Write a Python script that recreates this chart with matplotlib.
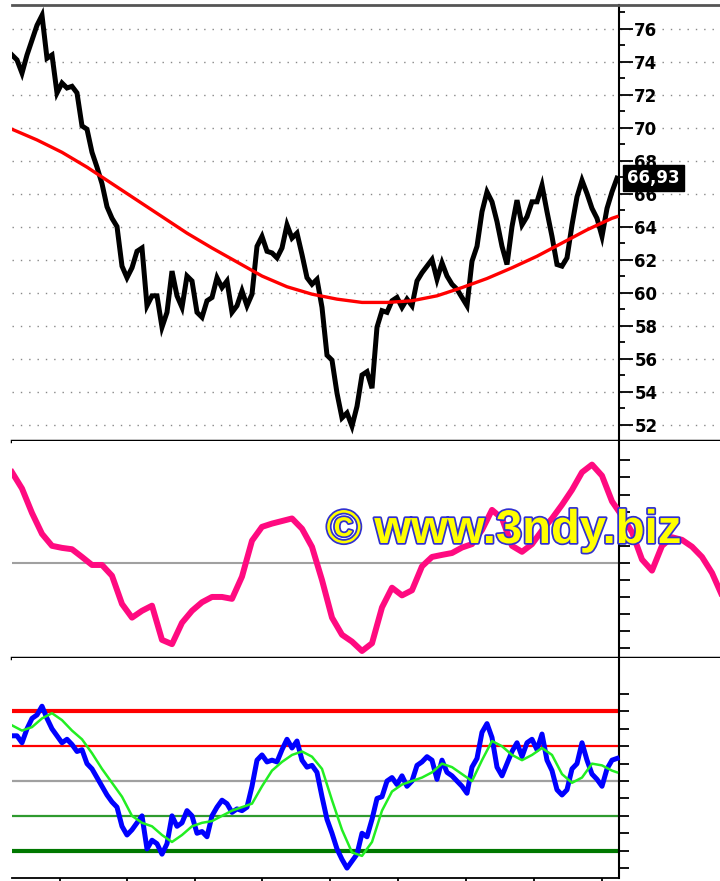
import numpy as np
import matplotlib
matplotlib.use("Agg")
import matplotlib.pyplot as plt
import matplotlib.patheffects as pe

# closing prices, one value per bar
price = [74.4, 74.1, 73.3, 74.4, 75.3, 76.2, 76.8, 74.2, 74.4, 72.1,
         72.7, 72.4, 72.5, 72.1, 70.1, 69.9, 68.5, 67.6, 66.6, 65.2,
         64.5, 64.0, 61.6, 60.9, 61.5, 62.5, 62.7, 59.2, 59.8, 59.8,
         57.9, 58.8, 61.3, 59.8, 59.1, 61.0, 60.7, 58.8, 58.5, 59.5,
         59.7, 60.9, 60.3, 60.7, 58.8, 59.2, 60.1, 59.2, 59.9, 62.8,
         63.4, 62.5, 62.4, 62.1, 62.7, 64.1, 63.3, 63.6, 62.3, 60.9,
         60.5, 60.8, 59.1, 56.2, 55.9, 53.9, 52.4, 52.7, 51.9, 53.1,
         55.0, 55.2, 54.2, 57.9, 58.9, 58.8, 59.5, 59.7, 59.1, 59.6,
         59.2, 60.7, 61.2, 61.6, 62.0, 60.8, 61.8, 61.0, 60.5, 60.2,
         59.7, 59.2, 61.9, 62.8, 64.9, 66.1, 65.5, 64.3, 62.8, 61.7,
         64.0, 65.6, 64.1, 64.6, 65.5, 65.5, 66.5, 64.9, 63.4, 61.7,
         61.6, 62.1, 64.1, 65.8, 66.8, 66.0, 65.1, 64.5, 63.4, 65.1,
         66.1, 66.93]
last_label = "66,93"

# long moving average, every 5th bar plus the last one
ma_line = [69.9, 69.25, 68.5, 67.6, 66.6, 65.6, 64.6, 63.6, 62.7, 61.85,
           61.0, 60.35, 59.9, 59.6, 59.4, 59.4, 59.5, 59.8, 60.3, 60.85,
           61.5, 62.2, 63.0, 63.8, 64.5, 64.6]

# displaced oscillator, every 2nd bar (runs past the last bar)
osc = [5.3, 4.35, 2.92, 1.7, 1.0, 0.88, 0.8, 0.35, -0.12, -0.12,
       -0.75, -2.4, -3.2, -2.8, -2.5, -4.5, -4.75, -3.5, -2.8, -2.3,
       -1.99, -1.99, -2.1, -0.8, 1.3, 2.11, 2.3, 2.45, 2.6, 2.0,
       0.94, -1.0, -3.2, -4.2, -4.6, -5.15, -4.7, -2.6, -1.45, -1.9,
       -1.6, -0.2, 0.35, 0.47, 0.58, 0.9, 1.1, 1.93, 3.1, 2.6,
       1.0, 0.65, 1.1, 1.9, 2.6, 3.4, 4.27, 5.3, 5.75, 5.1,
       3.6, 2.75, 1.8, 0.2, -0.45, 1.0, 1.5, 1.35, 0.95, 0.35,
       -0.58, -1.9]

# stochastic %K, one value per bar
stoch_k = [76, 76, 72, 80, 86, 88, 93, 86, 80, 76,
           72, 74, 71, 67, 68, 60, 57, 52, 47, 42,
           38, 35, 24, 19, 22, 26, 30, 11, 16, 14,
           8, 14, 30, 24, 26, 33, 30, 20, 21, 18,
           30, 35, 39, 37, 32, 34, 33, 35, 47, 62,
           65, 61, 62, 61, 68, 74, 69, 73, 62, 58,
           59, 55, 41, 28, 20, 11, 5, 0, 4, 8,
           20, 18, 28, 40, 41, 50, 52, 48, 53, 47,
           50, 59, 61, 64, 62, 51, 62, 55, 53, 50,
           47, 43, 58, 63, 78, 83, 75, 58, 53, 60,
           67, 72, 64, 72, 74, 68, 77, 62, 56, 45,
           42, 45, 57, 60, 72, 62, 54, 51, 47, 57,
           62, 63]

# stochastic %D, every 2nd bar plus the last one
stoch_d = [82, 79, 81, 86, 89, 85, 79, 74, 66, 57,
           49, 41, 30, 26, 24, 19, 15, 19, 24, 26,
           27, 30, 33, 35, 37, 47, 56, 61, 65, 67,
           64, 57, 39, 22, 9, 7, 15, 33, 44, 48,
           50, 52, 55, 60, 58, 54, 50, 62, 73, 70,
           65, 62, 65, 69, 65, 54, 49, 52, 60, 59,
           56, 55]

stoch_levels = [90, 70, 50, 30, 10]
date_ticks = [9.6, 23, 36.6, 50, 63.6, 77.2, 90.8, 104.4, 118]

W, H = 720, 881
EDGE = 121.4   # bar position of the price scale line
XMAX = 141.6

fig = plt.figure(figsize=(W / 100, H / 100), dpi=100)


def panel(top, bottom):
    return fig.add_axes([12 / W, 1 - bottom / H, (W - 12) / W, (bottom - top) / H])


ax1 = panel(5, 441)
ax2 = panel(441, 658)
ax3 = panel(658, 878)

for ax in (ax1, ax2, ax3):
    ax.set_xlim(0, XMAX)
    ax.spines["left"].set_visible(False)
    ax.spines["right"].set_position(("data", EDGE))
    ax.spines["right"].set_linewidth(1.5)
    ax.yaxis.tick_right()
    ax.tick_params(axis="y", which="both", direction="out", width=1.3, color="black")
    ax.tick_params(axis="x", bottom=False, labelbottom=False)

# --- price panel
bars = np.arange(len(price))
ma_x = np.append(np.arange(0, 121, 5), 121)
ax1.plot(bars, price, color="black", lw=3.6, solid_joinstyle="miter", zorder=3)
ax1.plot(ma_x, ma_line, color="#ff0000", lw=2.4, zorder=4)
ax1.set_ylim(51.40, 77.43)
ax1.set_yticks(range(52, 77, 2))
ax1.set_yticks(range(51, 78, 2), minor=True)
ax1.tick_params(axis="y", which="major", length=10, pad=1,
                labelsize=12)
ax1.tick_params(axis="y", which="minor", length=4.5)
for lab in ax1.get_yticklabels():
    lab.set_fontweight("bold")
ax1.grid(axis="y", which="major", color="#888888", lw=1, linestyle=(0, (1, 5)))
ax1.spines["top"].set_color("#555555")
ax1.spines["top"].set_linewidth(2)
ax1.spines["bottom"].set_linewidth(2.5)
# last-price tag sits over the 66/68 labels, as on the original
ax1.text(123.0, price[-1], last_label, color="white", fontsize=12, fontweight="bold",
         va="center", ha="left", zorder=6,
         bbox=dict(boxstyle="square,pad=0.25", fc="black", ec="black"))

# --- oscillator panel
osc_x = np.arange(0, 143, 2)
ax2.hlines(0, 0, EDGE, color="#a0a0a0", lw=1.5, zorder=2)
ax2.plot(osc_x, osc, color="#ff0a80", lw=4.3, zorder=3)
ax2.set_ylim(-5.56, 7.13)
ax2.set_yticks(range(-5, 7))
ax2.tick_params(axis="y", length=8, labelright=False)
ax2.spines["top"].set_visible(False)
ax2.spines["bottom"].set_linewidth(2.5)

# --- stochastic panel
d_x = np.append(np.arange(0, 121, 2), 121)
lvl_colors = ["#ff0000", "#ff0000", "#a0a0a0", "#2e9a2e", "#007800"]
lvl_widths = [3.0, 1.6, 1.6, 1.6, 3.0]
for lvl, c, w in zip(stoch_levels, lvl_colors, lvl_widths):
    ax3.hlines(lvl, 0, EDGE, color=c, lw=w, zorder=2)
ax3.plot(bars, stoch_k, color="#0000ff", lw=3.6, zorder=3)
ax3.plot(d_x, stoch_d, color="#22ee22", lw=1.8, zorder=4)
ax3.set_ylim(-5.7, 120.7)
ax3.set_yticks(range(0, 101, 10))
ax3.tick_params(axis="y", length=7, labelright=False)
ax3.spines["top"].set_visible(False)
ax3.spines["bottom"].set_bounds(0, EDGE)
ax3.spines["bottom"].set_linewidth(1.3)
ax3.set_xticks(date_ticks)
ax3.tick_params(axis="x", bottom=True, length=5, width=1.3, direction="out",
                labelbottom=False)

# watermark
fig.text(504 / W, 1 - 543 / H, "\u00a9 www.3ndy.biz", ha="center", va="baseline",
         fontsize=34, fontweight="bold", family="Liberation Sans", color="#ffff00",
         zorder=10,
         path_effects=[pe.withStroke(linewidth=2.5, foreground="#3030d0")])

fig.savefig("out.png", dpi=100)
